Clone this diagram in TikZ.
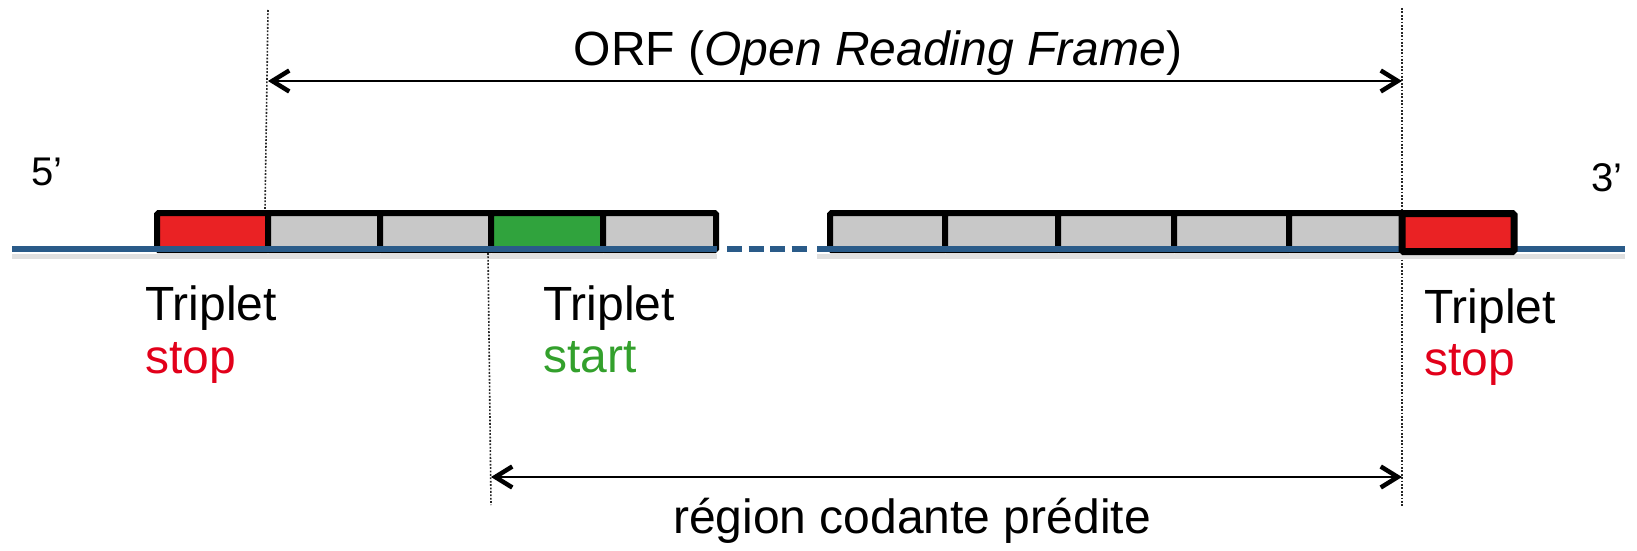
\documentclass[tikz,border=0pt]{standalone}
\usepackage{fontspec}
\setmainfont{Liberation Sans}
\usetikzlibrary{arrows.meta}
\definecolor{dnablue}{RGB}{42,91,137}
\definecolor{codred}{RGB}{234,34,36}
\definecolor{codgreen}{RGB}{48,163,61}
\definecolor{codgray}{RGB}{200,200,200}
\definecolor{labred}{RGB}{226,0,26}
\definecolor{labgreen}{RGB}{51,160,44}
\tikzset{
  codon/.style={draw=black, line width=6pt, fill=codgray, minimum height=37pt, inner sep=0pt, rounded corners=1.5pt},
  lab/.style={inner sep=0pt, anchor=base west, font=\fontsize{48}{53}\selectfont},
  endlab/.style={inner sep=0pt, anchor=base west, font=\fontsize{40}{46}\selectfont},
  guide/.style={draw=black!85, line width=1.6pt, dash pattern=on 1.8pt off 1.6pt},
  dna/.style={draw=dnablue, line width=5.5pt},
  span/.style={draw=black, line width=2.2pt, {Straight Barb[length=17pt,width=21pt,line width=4.5pt]}-{Straight Barb[length=17pt,width=21pt,line width=4.5pt]}},
}
\begin{document}
\begin{tikzpicture}[x=1pt,y=-1pt]
\useasboundingbox (0,0) rectangle (1637,551);
% guide coordinates
\coordinate (g1t) at (268,10);
\coordinate (g3t) at (1402,8);
\coordinate (g3b) at (1402,506);
\coordinate (g2b) at (491,505);
\coordinate (orfL) at (268,81);
\coordinate (orfR) at (1402,81);
\coordinate (rcL) at (491,477);
\coordinate (rcR) at (1402,477);
\coordinate (dnaA) at (12,249);
\coordinate (dnaB) at (717,249);
\coordinate (dnaC) at (727,249);
\coordinate (dnaD) at (808,249);
\coordinate (dnaE) at (817,249);
\coordinate (dnaF) at (1625,249);
% right guide (behind boxes)
\draw[guide] (g3t) -- (g3b);
% shadow of the strand
\draw[black!12, line width=5pt] (12,256) -- (717,256);
\draw[black!12, line width=5pt] (817,256) -- (1625,256);
% codons
\node[codon, fill=codred,   minimum width=111pt] (c1) at (212.5,231.5) {};
\node[codon,                minimum width=112pt] (c2) at (324,231.5) {};
\node[codon,                minimum width=111pt] (c3) at (435.5,231.5) {};
\node[codon, fill=codgreen, minimum width=112pt] (c4) at (547,231.5) {};
\node[codon,                minimum width=113pt] (c5) at (659.5,231.5) {};
\node[codon,                minimum width=115pt] (c6) at (887.5,231.5) {};
\node[codon,                minimum width=113pt] (c7) at (1001.5,231.5) {};
\node[codon,                minimum width=116pt] (c8) at (1116,231.5) {};
\node[codon,                minimum width=115pt] (c9) at (1231.5,231.5) {};
\node[codon,                minimum width=113pt] (c10) at (1345.5,231.5) {};
% strand
\draw[dna] (dnaA) -- (dnaB);
\draw[dna, dash pattern=on 15pt off 6.5pt] (dnaC) -- (dnaD);
\draw[dna] (dnaE) -- (dnaF);
% final stop codon on top of the strand
\node[codon, fill=codred, line width=7pt, minimum width=112pt, minimum height=38pt] (c11) at (1458,232.5) {};
% other guides
\draw[guide] (g1t) -- (c2.north west);
\draw[guide] (c4.south west) -- (g2b);
% spans
\draw[span] (orfL) -- (orfR);
\draw[span] (rcL) -- (rcR);
% labels
\node[lab, anchor=base] (orf) at (878,65) {ORF (\textit{Open Reading Frame})};
\node[endlab] (five) at (31,185) {5’};
\node[endlab] (three) at (1591,191) {3’};
\node[lab] (trip1) at (145,320) {Triplet};
\node[lab, text=labred] (stop1) at (145,373) {stop};
\node[lab] (trip2) at (543,320) {Triplet};
\node[lab, text=labgreen] (start2) at (543,372) {start};
\node[lab] (trip3) at (1424,323) {Triplet};
\node[lab, text=labred] (stop3) at (1424,375) {stop};
\node[lab, anchor=base] (rc) at (912,533) {région codante prédite};
\end{tikzpicture}
\end{document}
